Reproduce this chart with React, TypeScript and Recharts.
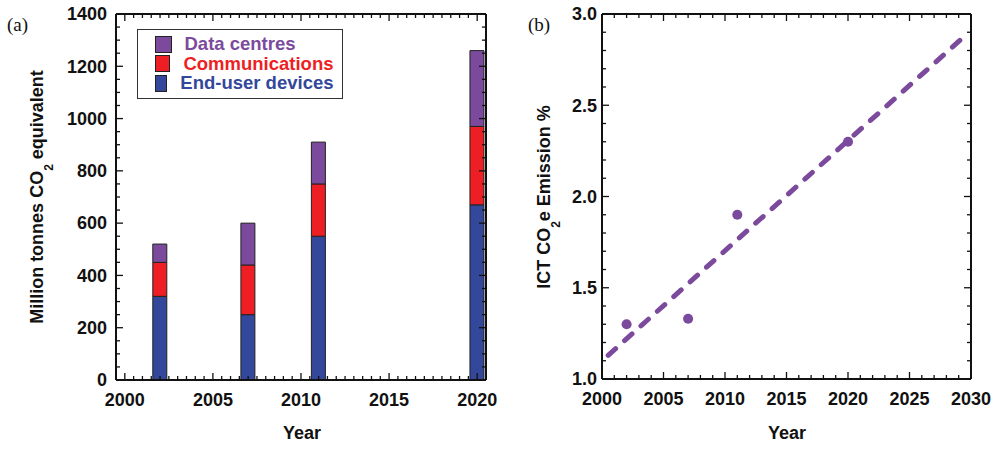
import React from "react";
import {
  BarChart, Bar, ComposedChart, Line, Scatter, XAxis, YAxis, ZAxis, Legend,
} from "recharts";

// panel (a): stacked emissions by year
const barYears = [2002, 2007, 2011, 2020];
const endUserDevices = [320, 250, 550, 670];
const communications = [130, 190, 200, 300];
const dataCentres = [70, 160, 160, 290];
const legendOrder = ["Data centres", "Communications", "End-user devices"];

const barYearLabels = [2000, 2005, 2010, 2015, 2020];
const tonneLabels = [0, 200, 400, 600, 800, 1000, 1200, 1400];

// panel (b): ICT share of global emissions
const pointYears = [2002, 2007, 2011, 2020];
const ictShare = [1.3, 1.33, 1.9, 2.3];
const trendYears = [2000.5, 2029.5];
const trendShare = [1.13, 2.88];

const shareYearLabels = [2000, 2005, 2010, 2015, 2020, 2025, 2030];
const shareLabels = [1.0, 1.5, 2.0, 2.5, 3.0];

const PURPLE = "#7c4a9d";
const RED = "#ed1f24";
const BLUE = "#33479b";
const INK = "#111";
const FONT = "'Liberation Sans', Arial, sans-serif";

const barData = barYears.map((year, i) => ({
  year,
  endUser: endUserDevices[i],
  comms: communications[i],
  dc: dataCentres[i],
}));
const pointData = pointYears.map((year, i) => ({ year, share: ictShare[i] }));
const trendData = trendYears.map((year, i) => ({ year, share: trendShare[i] }));

function steps(from: number, to: number, step: number) {
  const out: number[] = [];
  const n = Math.round((to - from) / step);
  for (let i = 0; i <= n; i++) out.push(+(from + i * step).toFixed(4));
  return out;
}

const isOn = (v: number, list: number[]) => list.some((t) => Math.abs(t - v) < 1e-6);

const tickText: React.CSSProperties = {
  fontFamily: FONT, fontWeight: 700, fontSize: 18, fill: INK,
};
const axisLine = { stroke: INK, strokeWidth: 2 };

// tick mark drawn inward from the frame, label only on major values
function xTick(side: "bottom" | "top", majors: number[]) {
  return (p: any) => {
    const v = p.payload.value;
    const major = isOn(v, majors);
    const len = major ? 7 : 4;
    const dir = side === "bottom" ? -1 : 1;
    return (
      <g>
        <line x1={p.x} x2={p.x} y1={p.y} y2={p.y + dir * len} stroke={INK} strokeWidth={1.3} />
        {side === "bottom" && major && (
          <text x={p.x} y={p.y + 25.5} textAnchor="middle" style={tickText}>{String(v)}</text>
        )}
      </g>
    );
  };
}

function yTick(side: "left" | "right", majors: number[], fmt: (v: number) => string, gap: number) {
  return (p: any) => {
    const v = p.payload.value;
    const major = isOn(v, majors);
    const len = major ? 7 : 4;
    const dir = side === "left" ? 1 : -1;
    return (
      <g>
        <line x1={p.x} x2={p.x + dir * len} y1={p.y} y2={p.y} stroke={INK} strokeWidth={1.3} />
        {side === "left" && major && (
          <text x={p.x - gap} y={p.y} dy="0.35em" textAnchor="end" style={tickText}>{fmt(v)}</text>
        )}
      </g>
    );
  };
}

function LegendBox({ payload }: any) {
  const items = legendOrder
    .map((name) => (payload ?? []).find((it: any) => it.value === name))
    .filter(Boolean);
  return (
    <div
      style={{
        border: "1.5px solid #333",
        background: "#fff",
        padding: "4.25px 8px 5.25px 16.5px",
        width: 179,
        boxSizing: "content-box",
      }}
    >
      {items.map((it: any) => (
        <div key={it.value} style={{ display: "flex", alignItems: "center", height: 19.5 }}>
          <span
            style={{
              display: "inline-block", width: 15, height: 15, background: it.color,
              border: "1px solid #222", marginRight: 13,
            }}
          />
          <span style={{ color: it.color, font: `700 18.5px ${FONT}`, whiteSpace: "nowrap" }}>
            {it.value}
          </span>
        </div>
      ))}
    </div>
  );
}

const barYearTicks = steps(2000, 2020, 0.5);
const tonneTicks = steps(0, 1400, 50);
const shareYearTicks = steps(2000, 2030, 1);
const shareTicks = steps(1, 3, 0.1);

const common = { tickSize: 0, tickMargin: 0, tickLine: false, axisLine, interval: 0 as const, allowDataOverflow: true };

export default function App() {
  return (
    <div style={{ position: "absolute", left: 0, top: 0, width: 1001, height: 468, background: "#fff" }}>
      <div style={{ position: "absolute", left: 0, top: 0 }}>
        <BarChart width={500} height={468} data={barData} margin={{ top: 12, right: 12, bottom: 58, left: 76 }}>
          <XAxis dataKey="year" type="number" domain={[1999.5, 2020.5]} ticks={barYearTicks}
            height={30} {...common} tick={xTick("bottom", barYearLabels)} />
          <XAxis xAxisId="top" orientation="top" dataKey="year" type="number" domain={[1999.5, 2020.5]}
            ticks={barYearTicks} height={2} {...common} tick={xTick("top", barYearLabels)} />
          <YAxis type="number" domain={[0, 1400]} ticks={tonneTicks} width={40} {...common}
            tick={yTick("left", tonneLabels, (v) => String(v), 9)} />
          <YAxis yAxisId="right" orientation="right" type="number" domain={[0, 1400]} ticks={tonneTicks}
            width={2} {...common} tick={yTick("right", tonneLabels, (v) => String(v), 9)} />
          <Bar dataKey="endUser" name="End-user devices" stackId="a" fill={BLUE} stroke="#222"
            strokeWidth={1} barSize={14} isAnimationActive={false} />
          <Bar dataKey="comms" name="Communications" stackId="a" fill={RED} stroke="#222"
            strokeWidth={1} barSize={14} isAnimationActive={false} />
          <Bar dataKey="dc" name="Data centres" stackId="a" fill={PURPLE} stroke="#222"
            strokeWidth={1} barSize={14} isAnimationActive={false} />
          <Legend layout="horizontal" verticalAlign="middle" align="center" content={<LegendBox />}
            wrapperStyle={{ left: 137, top: 29, width: "auto", height: "auto" }} />
        </BarChart>
      </div>

      <div style={{ position: "absolute", left: 500, top: 0 }}>
        <ComposedChart width={501} height={468} margin={{ top: 12, right: 28, bottom: 59, left: 62 }}>
          <XAxis dataKey="year" type="number" domain={[2000, 2030]} ticks={shareYearTicks}
            height={30} {...common} tick={xTick("bottom", shareYearLabels)} />
          <XAxis xAxisId="top" orientation="top" dataKey="year" type="number" domain={[2000, 2030]}
            ticks={shareYearTicks} height={2} {...common} tick={xTick("top", shareYearLabels)} />
          <YAxis type="number" domain={[1, 3]} ticks={shareTicks} width={40} {...common}
            tick={yTick("left", shareLabels, (v) => v.toFixed(1), 5)} />
          <YAxis yAxisId="right" orientation="right" type="number" domain={[1, 3]} ticks={shareTicks}
            width={2} {...common} tick={yTick("right", shareLabels, (v) => v.toFixed(1), 5)} />
          <ZAxis range={[80, 80]} />
          <Line data={trendData} dataKey="share" type="linear" stroke={PURPLE} strokeWidth={5}
            strokeDasharray="10 12" strokeLinecap="round" dot={false} activeDot={false}
            isAnimationActive={false} />
          <Scatter data={pointData} dataKey="share" fill={PURPLE} isAnimationActive={false} />
        </ComposedChart>
      </div>

      <svg width={1001} height={468} style={{ position: "absolute", left: 0, top: 0, pointerEvents: "none" }}>
        <text x={7} y={31} style={{ fontFamily: "'Liberation Serif', serif", fontSize: 19, fill: INK }}>(a)</text>
        <text x={528} y={31} style={{ fontFamily: "'Liberation Serif', serif", fontSize: 19, fill: INK }}>(b)</text>
        <text transform="translate(43,197) rotate(-90)" textAnchor="middle"
          style={{ fontFamily: FONT, fontWeight: 700, fontSize: 18, fill: INK }}>
          Million tonnes CO<tspan dy={10} fontSize={12}>2</tspan><tspan dy={-10}> equivalent</tspan>
        </text>
        <text transform="translate(550,197) rotate(-90)" textAnchor="middle"
          style={{ fontFamily: FONT, fontWeight: 700, fontSize: 18, fill: INK }}>
          ICT CO<tspan dy={10} fontSize={12}>2</tspan><tspan dy={-10}>e Emission %</tspan>
        </text>
        <text x={302} y={439} textAnchor="middle" style={{ fontFamily: FONT, fontWeight: 700, fontSize: 18, fill: INK }}>Year</text>
        <text x={787} y={439} textAnchor="middle" style={{ fontFamily: FONT, fontWeight: 700, fontSize: 18, fill: INK }}>Year</text>
      </svg>
    </div>
  );
}
